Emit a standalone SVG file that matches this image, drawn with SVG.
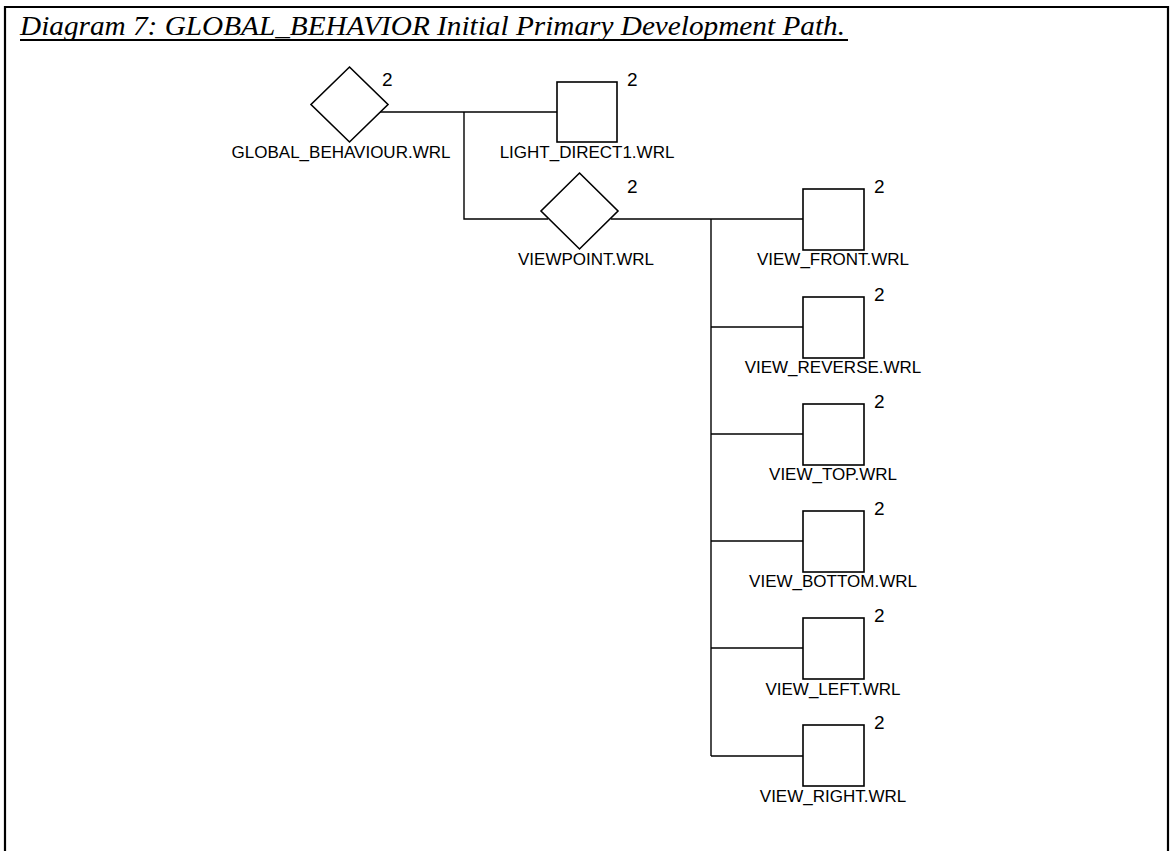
<svg xmlns="http://www.w3.org/2000/svg" width="1170" height="851" viewBox="0 0 1170 851">
  <style>
    .frame { fill: none; stroke: #000; stroke-width: 2.2; }
    .title { font-family: "Liberation Serif", "Times New Roman", serif; font-style: italic; font-size: 28px; fill: #000; }
    .shape { fill: #fff; stroke: #000; stroke-width: 1.6; }
    .wire { fill: none; stroke: #000; stroke-width: 1.4; }
    .label { font-family: "Liberation Sans", Arial, sans-serif; font-size: 17px; fill: #000; text-anchor: middle; }
    .count { font-family: "Liberation Sans", Arial, sans-serif; font-size: 19px; fill: #000; }
  </style>
  <rect width="1170" height="851" fill="#fff"/>

  <!-- page frame (open at the bottom) -->
  <path class="frame" d="M5,851 V7 H1168 V851"/>

  <!-- caption -->
  <g id="caption">
    <text class="title" x="20" y="35" textLength="825" lengthAdjust="spacingAndGlyphs">Diagram 7: GLOBAL_BEHAVIOR Initial Primary Development Path.</text>
    <line x1="20" y1="40" x2="848" y2="40" stroke="#000" stroke-width="2"/>
  </g>

  <!-- connectors -->
  <g id="connectors" class="wire">
    <path d="M380,112 H557"/>
    <path d="M464,112 V219 H548"/>
    <path d="M611,219 H803"/>
    <path d="M711,219 V756"/>
    <path d="M711,327 H803"/>
    <path d="M711,434 H803"/>
    <path d="M711,541 H803"/>
    <path d="M711,648 H803"/>
    <path d="M711,756 H803"/>
  </g>

  <!-- nodes -->
  <g id="global_behaviour">
    <polygon class="shape" points="349.5,67 388,104.5 349.5,142 311,104.5"/>
    <text class="count" x="382" y="86">2</text>
    <text class="label" x="341" y="158">GLOBAL_BEHAVIOUR.WRL</text>
  </g>

  <g id="light_direct1">
    <rect class="shape" x="557" y="82" width="60" height="60"/>
    <text class="count" x="627" y="86">2</text>
    <text class="label" x="587" y="158">LIGHT_DIRECT1.WRL</text>
  </g>

  <g id="viewpoint">
    <polygon class="shape" points="579.5,173 618,211 579.5,249 541,211"/>
    <text class="count" x="627" y="193">2</text>
    <text class="label" x="586" y="265">VIEWPOINT.WRL</text>
  </g>

  <g id="view_front">
    <rect class="shape" x="803" y="189" width="61" height="61"/>
    <text class="count" x="874" y="193">2</text>
    <text class="label" x="833" y="265">VIEW_FRONT.WRL</text>
  </g>

  <g id="view_reverse">
    <rect class="shape" x="803" y="297" width="61" height="61"/>
    <text class="count" x="874" y="301">2</text>
    <text class="label" x="833" y="373">VIEW_REVERSE.WRL</text>
  </g>

  <g id="view_top">
    <rect class="shape" x="803" y="404" width="61" height="61"/>
    <text class="count" x="874" y="408">2</text>
    <text class="label" x="833" y="480">VIEW_TOP.WRL</text>
  </g>

  <g id="view_bottom">
    <rect class="shape" x="803" y="511" width="61" height="61"/>
    <text class="count" x="874" y="515">2</text>
    <text class="label" x="833" y="587">VIEW_BOTTOM.WRL</text>
  </g>

  <g id="view_left">
    <rect class="shape" x="803" y="618" width="61" height="61"/>
    <text class="count" x="874" y="622">2</text>
    <text class="label" x="833" y="695">VIEW_LEFT.WRL</text>
  </g>

  <g id="view_right">
    <rect class="shape" x="803" y="725" width="61" height="61"/>
    <text class="count" x="874" y="729">2</text>
    <text class="label" x="833" y="802">VIEW_RIGHT.WRL</text>
  </g>
</svg>
